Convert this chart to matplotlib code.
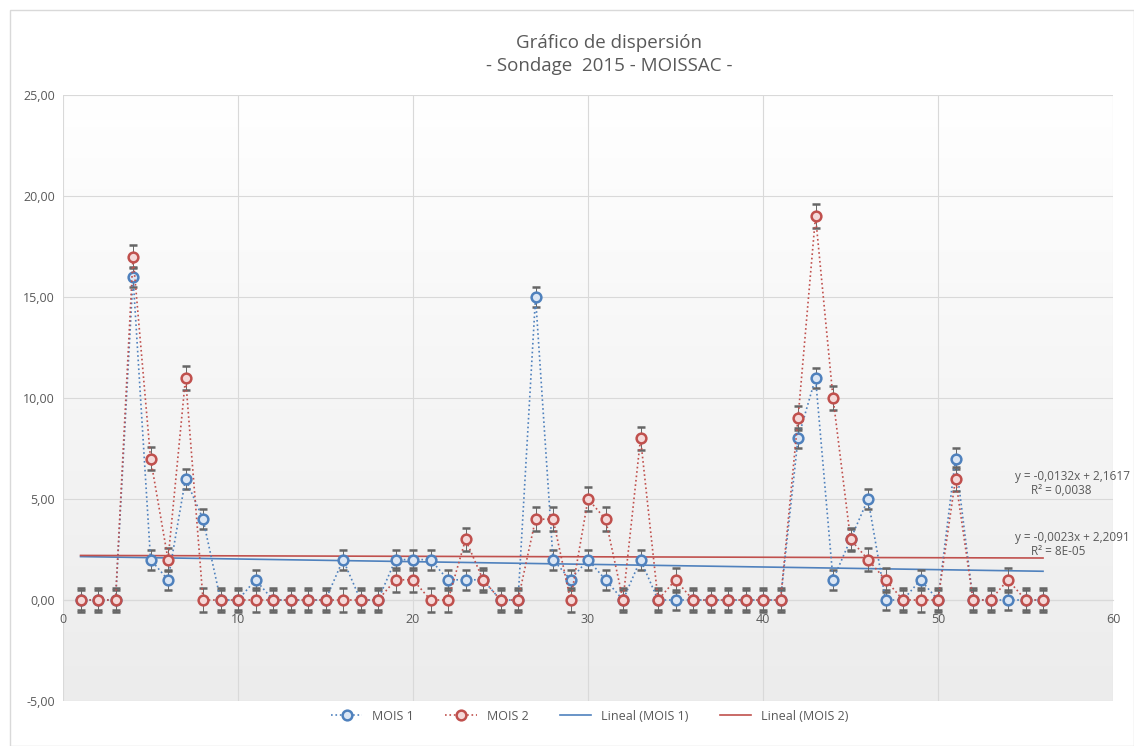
import matplotlib.pyplot as plt
import numpy as np
from matplotlib.patches import Rectangle
from matplotlib.lines import Line2D

plt.rcParams['font.family'] = ['Open Sans', 'DejaVu Sans']

x = list(range(1, 57))
mois1 = [0, 0, 0, 16, 2, 1, 6, 4, 0, 0, 1, 0, 0, 0, 0, 2, 0, 0, 2, 2,
         2, 1, 1, 1, 0, 0, 15, 2, 1, 2, 1, 0, 2, 0, 0, 0, 0, 0, 0, 0,
         0, 8, 11, 1, 3, 5, 0, 0, 1, 0, 7, 0, 0, 0, 0, 0]
mois2 = [0, 0, 0, 17, 7, 2, 11, 0, 0, 0, 0, 0, 0, 0, 0, 0, 0, 0, 1, 1,
         0, 0, 3, 1, 0, 0, 4, 4, 0, 5, 4, 0, 8, 0, 1, 0, 0, 0, 0, 0,
         0, 9, 19, 10, 3, 2, 1, 0, 0, 0, 6, 0, 0, 1, 0, 0]
err1 = 0.5
err2 = 0.58

blue = '#4f81bd'
red = '#c0504d'

fig = plt.figure(figsize=(11.34, 7.46), dpi=100)
fig.patches.append(Rectangle((10 / 1134, 0), 1 - 10 / 1134, 1 - 10 / 746,
                             transform=fig.transFigure, fill=False,
                             edgecolor='#d9d9d9', lw=1))
ax = fig.add_axes([0.0556, 0.0603, 0.9259, 0.8124])

# background gradient
grad = np.linspace(0, 1, 256).reshape(-1, 1)
ax.imshow(grad, extent=[0, 1, 0, 1], transform=ax.transAxes, aspect='auto',
          cmap=plt.matplotlib.colors.LinearSegmentedColormap.from_list(
              'bg', [(0, '#ececec'), (0.17, '#efefef'), (1, '#ffffff')]),
          zorder=0, origin='lower')

style1 = dict(color=blue, ls=':', lw=1.2, marker='o', ms=7, mfc='#dbe6f4', mec=blue, mew=1.8)
style2 = dict(color=red, ls=':', lw=1.2, marker='o', ms=7, mfc='#f4d9d9', mec=red, mew=1.8)

ax.errorbar(x, mois1, yerr=err1, ecolor='#666666', elinewidth=0.7,
            capsize=3, capthick=0.8, zorder=3, **style1)
ax.errorbar(x, mois2, yerr=err2, ecolor='#666666', elinewidth=0.7,
            capsize=3, capthick=0.8, zorder=4, **style2)

xs = np.array([x[0], x[-1]])
c1 = np.polyfit(x, mois1, 1)
c2 = np.polyfit(x, mois2, 1)
t1, = ax.plot(xs, np.polyval(c1, xs), color=blue, lw=1.2, zorder=2)
t2, = ax.plot(xs, np.polyval(c2, xs), color=red, lw=1.2, zorder=2)

ax.text(54.4, 6.1, 'y = -0,0132x + 2,1617', fontsize=8.5, color='#595959',
        ha='left', va='center', clip_on=False)
ax.text(55.3, 5.4, 'R² = 0,0038', fontsize=8.5, color='#595959',
        ha='left', va='center', clip_on=False)
ax.text(54.4, 3.1, 'y = -0,0023x + 2,2091', fontsize=8.5, color='#595959',
        ha='left', va='center', clip_on=False)
ax.text(55.3, 2.4, 'R² = 8E-05', fontsize=8.5, color='#595959',
        ha='left', va='center', clip_on=False)

ax.set_xlim(0, 60)
ax.set_ylim(-5, 25)
ax.set_xticks(range(0, 61, 10))
ax.set_yticks(range(-5, 26, 5))
ax.set_yticklabels([f'{v:.2f}'.replace('.', ',') for v in range(-5, 26, 5)])
ax.grid(True, color='#d9d9d9', lw=0.8)
ax.set_axisbelow(True)
for s in ['top', 'right', 'left']:
    ax.spines[s].set_visible(False)
ax.spines['bottom'].set_position(('data', 0))
ax.spines['bottom'].set_color('#d9d9d9')
ax.tick_params(length=0, labelsize=9, colors='#595959')
ax.tick_params(axis='x', pad=9)
ax.tick_params(axis='y', pad=6)

fig.text(0.537, 0.943, 'Gráfico de dispersión', ha='center', va='center',
         fontsize=13.5, color='#595959')
fig.text(0.537, 0.912, '- Sondage  2015 - MOISSAC -', ha='center', va='center',
         fontsize=13.5, color='#595959')

handles = [Line2D([], [], **style1), Line2D([], [], **style2), t1, t2]
fig.legend(handles, ['MOIS 1', 'MOIS 2', 'Lineal (MOIS 1)', 'Lineal (MOIS 2)'],
           loc='center', bbox_to_anchor=(0.52, 0.04), ncol=4, frameon=False,
           fontsize=9, handlelength=2.5, columnspacing=2.5,
           labelcolor='#595959')

fig.savefig('out.png', dpi=100)
